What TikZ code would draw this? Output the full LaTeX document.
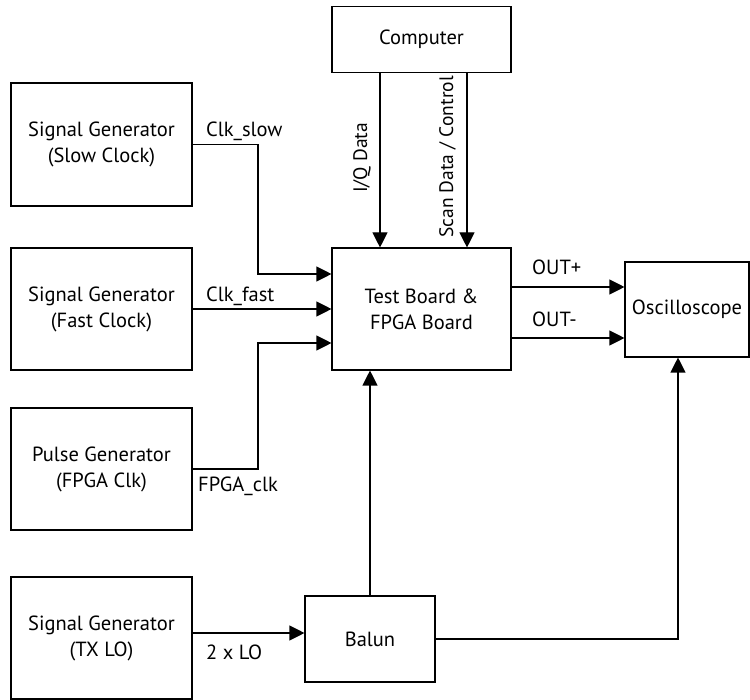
\documentclass[tikz,border=0pt]{standalone}
\usepackage{fontspec}
\setmainfont{PT Sans}
\usetikzlibrary{arrows.meta}
\begin{document}
\begin{tikzpicture}[x=1pt,y=-1pt,
  box/.style={draw,line width=1.1pt,align=center,inner sep=0pt,font=\fontsize{20.5}{26}\selectfont},
  lbl/.style={font=\fontsize{20.5}{26}\selectfont,inner sep=0pt},
  vlbl/.style={font=\fontsize{19.5}{26}\selectfont,inner sep=0pt,rotate=90,anchor=base west},
  arr/.style={line width=1.1pt,-{Triangle[length=15pt,width=15pt]}},
  ln/.style={line width=1.1pt}]
\useasboundingbox (0,0) rectangle (750,700);
\node[box,minimum width=179pt,minimum height=66pt] (comp) at (421.5,39.5) {Computer};
\node[box,minimum width=181pt,minimum height=123pt] (slow) at (101.5,144.5) {Signal Generator\\(Slow Clock)};
\node[box,minimum width=181pt,minimum height=122pt] (fast) at (101.5,309) {Signal Generator\\(Fast Clock)};
\node[box,minimum width=181pt,minimum height=122pt] (pulse) at (101.5,469) {Pulse Generator\\(FPGA Clk)};
\node[box,minimum width=181pt,minimum height=122pt] (txlo) at (101.5,638) {Signal Generator\\(TX LO)};
\node[box,minimum width=179pt,minimum height=122pt] (test) at (421.5,309) {Test Board \&\\FPGA Board};
\node[box,minimum width=124pt,minimum height=95pt] (osc) at (687,309.5) {Oscilloscope};
\node[box,minimum width=130pt,minimum height=86pt] (balun) at (370,639) {Balun};
% clocks
\draw[arr] (slow.east) -| (258,200) |- ([yshift=35pt]test.west);
\draw[arr] (fast.east) -- (test.west);
\draw[arr] (pulse.east) -| (258,400) |- ([yshift=-34pt]test.west);
% computer
\draw[arr] ([xshift=-41.5pt]comp.south) -- ([xshift=-41.5pt]test.north);
\draw[arr] ([xshift=45.5pt]comp.south) -- ([xshift=45.5pt]test.north);
% outputs
\coordinate (op) at ([yshift=22pt]test.east);
\coordinate (om) at ([yshift=-29pt]test.east);
\draw[arr] (op) -- (op -| osc.west);
\draw[arr] (om) -- (om -| osc.west);
% LO
\coordinate (lo) at ([yshift=5pt]txlo.east);
\draw[arr] (lo) -- (lo -| balun.west);
\draw[arr] (balun.north) -- (balun.north |- test.south);
\coordinate (oscin) at ([xshift=-9pt]osc.south);
\draw[arr] (balun.east) -| (oscin);
% labels
\node[lbl,anchor=base west] (l1) at (206,137) {Clk\_slow};
\node[lbl,anchor=base west] (l2) at (206,302) {Clk\_fast};
\node[lbl,anchor=base west] (l3) at (198,492) {FPGA\_clk};
\node[lbl,anchor=base west] (l4) at (206,659) {2 x LO};
\node[lbl,anchor=base west] (l5) at (532,275) {OUT+};
\node[lbl,anchor=base west] (l6) at (532,327) {OUT-};
\node[vlbl] (l7) at (367,193) {I/Q Data};
\node[vlbl] (l8) at (453,238) {Scan Data / Control};
\end{tikzpicture}
\end{document}
